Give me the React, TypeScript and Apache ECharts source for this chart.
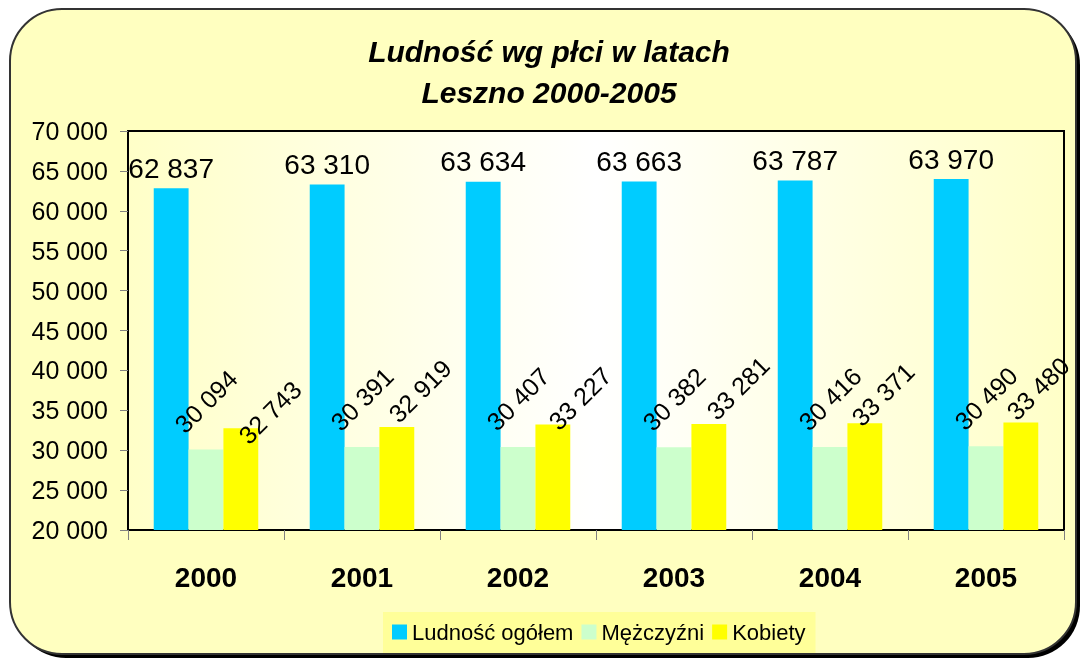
import React, { useEffect, useRef } from "react";
import * as echarts from "echarts";

const years = ["2000", "2001", "2002", "2003", "2004", "2005"];
const totalPop = [62837, 63310, 63634, 63663, 63787, 63970];
const men = [30094, 30391, 30407, 30382, 30416, 30490];
const women = [32743, 32919, 33227, 33281, 33371, 33480];
const seriesNames = ["Ludność ogółem", "Mężczyźni", "Kobiety"];
const titleText = "Ludność wg płci w latach\nLeszno 2000-2005";
const yMin = 20000;
const yMax = 70000;
const yStep = 5000;

// on-screen shifts of the rotated "Kobiety" labels (styling only)
const womenLabelShift = [
  [29, -16],
  [23, -36],
  [27, -26],
  [29, -36],
  [18, -29],
  [17, -34],
];

const FONT = "'Liberation Sans', Arial, sans-serif";
const fmt = (v: number) =>
  String(Math.round(v)).replace(/\B(?=(\d{3})+(?!\d))/g, " ");

// convert a desired on-screen shift into the rotated label frame
const rotOffset = (dx: number, dy: number, deg: number) => {
  const t = (deg * Math.PI) / 180;
  const c = Math.cos(t);
  const s = Math.sin(t);
  return [dx * c - dy * s, dx * s + dy * c];
};

export default function App() {
  const ref = useRef<HTMLDivElement>(null);
  useEffect(() => {
    if (!ref.current) return;
    const chart = echarts.init(ref.current, undefined, { renderer: "svg" });
    const rotLabel = (dx: number, dy: number) => ({
      show: true,
      position: "top",
      distance: 0,
      rotate: 45,
      align: "center",
      verticalAlign: "middle",
      offset: rotOffset(dx, dy, 45),
      fontSize: 25,
      color: "#000",
      fontFamily: FONT,
      formatter: (p: any) => fmt(p.value),
    });
    chart.setOption({
      animation: false,
      textStyle: { fontFamily: FONT },
      graphic: [
        {
          type: "rect",
          z: -10,
          silent: true,
          shape: { x: 14, y: 13, width: 1066, height: 645, r: 52 },
          style: { fill: "#000" },
        },
        {
          type: "rect",
          z: -9,
          silent: true,
          shape: { x: 10, y: 9, width: 1066, height: 645, r: 52 },
          style: { fill: "#FFFFC0", stroke: "#333", lineWidth: 2 },
        },
      ],
      title: {
        text: titleText,
        left: 544,
        top: 26,
        textAlign: "center",
        textStyle: {
          fontSize: 30,
          fontWeight: "bold",
          fontStyle: "italic",
          color: "#000",
          lineHeight: 41,
          fontFamily: FONT,
        },
      },
      legend: {
        left: 383,
        top: 612,
        orient: "horizontal",
        itemWidth: 15,
        itemHeight: 15,
        itemGap: 8,
        icon: "rect",
        backgroundColor: "#FFFF99",
        padding: [9, 10, 10, 9],
        textStyle: { fontSize: 22, color: "#000", fontFamily: FONT },
        data: seriesNames,
      },
      grid: {
        left: 128,
        top: 131,
        right: 16,
        bottom: 129,
        show: true,
        borderColor: "#000",
        borderWidth: 2,
        backgroundColor: new echarts.graphic.LinearGradient(0, 0, 1, 0, [
          { offset: 0, color: "#FFFFC8" },
          { offset: 0.5, color: "#FFFFFF" },
          { offset: 1, color: "#FFFFC8" },
        ]),
      },
      xAxis: {
        type: "category",
        data: years,
        axisLine: { lineStyle: { color: "#000", width: 2 } },
        axisTick: { show: true, length: 10, lineStyle: { color: "#808080", width: 1 } },
        axisLabel: {
          margin: 33,
          fontSize: 28,
          fontWeight: "bold",
          color: "#000",
          fontFamily: FONT,
        },
      },
      yAxis: {
        type: "value",
        min: yMin,
        max: yMax,
        interval: yStep,
        axisLine: { show: true, lineStyle: { color: "#000", width: 2 } },
        axisTick: { show: true, length: 8, lineStyle: { color: "#808080", width: 1 } },
        splitLine: { show: false },
        axisLabel: {
          margin: 20,
          fontSize: 25,
          color: "#000",
          fontFamily: FONT,
          formatter: (v: number) => fmt(v),
        },
      },
      series: [
        {
          name: seriesNames[0],
          type: "bar",
          data: totalPop,
          barGap: "0%",
          barCategoryGap: "33%",
          itemStyle: { color: "#00CCFF" },
          label: {
            show: true,
            position: "top",
            distance: 6,
            fontSize: 28,
            color: "#000",
            fontFamily: FONT,
            formatter: (p: any) => fmt(p.value),
          },
        },
        {
          name: seriesNames[1],
          type: "bar",
          data: men,
          barGap: "0%",
          barCategoryGap: "33%",
          itemStyle: { color: "#CCFFCC" },
          label: rotLabel(0, -48),
        },
        {
          name: seriesNames[2],
          type: "bar",
          data: women.map((v, i) => ({
            value: v,
            label: { offset: rotOffset(womenLabelShift[i][0], womenLabelShift[i][1], 45) },
          })),
          barGap: "0%",
          barCategoryGap: "33%",
          itemStyle: { color: "#FFFF00" },
          label: rotLabel(25, -30),
        },
      ],
    });
    return () => chart.dispose();
  }, []);
  return (
    <div
      ref={ref}
      style={{ position: "fixed", left: 0, top: 0, width: 1080, height: 659 }}
    />
  );
}
